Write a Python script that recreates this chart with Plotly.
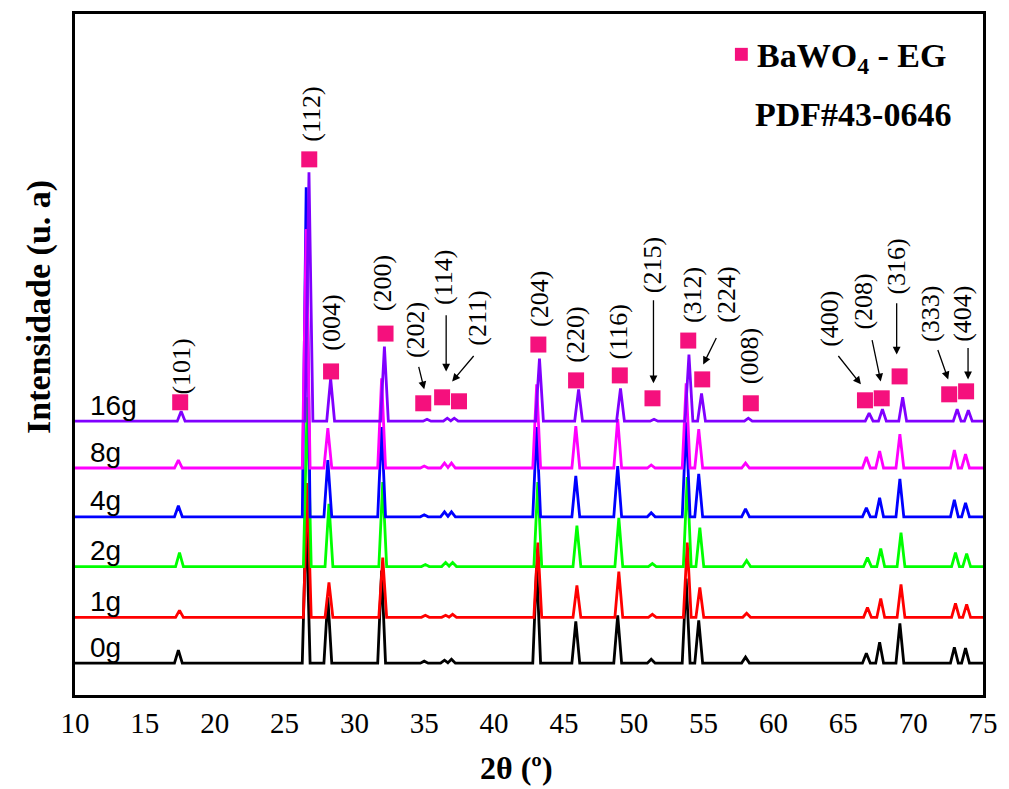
import plotly.graph_objects as go

# ---------------- data ----------------
SAMPLES = ["0g", "1g", "2g", "4g", "8g", "16g"]
COLORS = ["#000000", "#FF0000", "#00FF00", "#0000FF", "#FF00FF", "#8000FF"]
OFFSETS = [32, 78, 129, 179, 228, 275]          # vertical stacking offset (u. a)
SHIFTS = [0.0, 0.08, 0.08, 0.0, 0.0, 0.2]       # peak shift of each pattern (deg)

HKL = ["(101)", "(112)", "(004)", "(200)", "(202)", "(114)", "(211)", "(204)", "(220)",
       "(116)", "(215)", "(312)", "(224)", "(008)", "(400)", "(208)", "(316)", "(333)", "(404)"]
PEAK_2THETA = [17.4, 26.55, 28.1, 31.95, 35.0, 36.45, 36.95, 43.05, 45.85,
               48.85, 51.25, 53.75, 54.65, 58.0, 66.65, 67.6, 69.05, 72.95, 73.75]

I_0G = [13, 150, 66, 93, 2, 3, 4, 98, 42, 48, 4, 85, 43, 6, 10, 21, 40, 16, 15]
I_1G = [7, 135, 35, 60, 2, 2, 3, 75, 32, 46, 3, 75, 30, 4, 10, 19, 33, 14, 13]
I_2G = [14, 170, 63, 85, 2, 4, 4, 85, 41, 49, 3, 90, 39, 6, 9, 18, 34, 14, 13]
I_4G = [11, 331, 57, 90, 2, 5, 5, 90, 41, 51, 4, 95, 43, 8, 9, 19, 38, 17, 14]
I_8G = [8, 240, 40, 90, 2, 5, 5, 84, 42, 49, 3, 85, 39, 5, 11, 17, 34, 18, 14]
I_16G = [10, 250, 43, 75, 2, 3, 3, 63, 32, 33, 2, 67, 28, 3, 8, 12, 24, 12, 11]
INTENSITIES = [I_0G, I_1G, I_2G, I_4G, I_8G, I_16G]

# reference markers (pink squares) and their labels
MARK_2THETA = [17.53, 26.77, 28.33, 32.23, 34.93, 36.28, 37.49, 43.17, 45.87,
               49.0, 51.34, 53.9, 54.9, 58.38, 66.55, 67.75, 69.03, 72.58, 73.79]
MARK_Y = [294, 538, 325, 363, 293, 299, 295, 352, 316,
          321, 298, 356, 317, 293, 296, 298, 320, 302, 305]
LABEL_2THETA = [17.6, 26.9, 28.4, 32.0, 34.37, 36.43, 38.85, 43.3, 45.87,
                48.93, 51.4, 54.19, 56.67, 58.3, 63.99, 66.47, 68.82, 71.23, 73.58]
LABEL_Y = [330, 583, 374, 414, 367, 419, 378, 398, 362,
           365, 432, 402, 402, 340, 378, 395, 430, 383, 383]

# arrows: (tail x, tail y, head x, head y)
ARROWS = [
    (34.58, 331, 35.0, 307),
    (36.57, 383, 36.57, 325),
    (38.63, 342, 37.0, 315),
    (51.41, 398, 51.41, 313),
    (55.96, 360, 54.97, 332),
    (64.56, 342, 66.26, 312),
    (67.04, 358, 67.68, 315),
    (68.82, 395, 68.82, 342),
    (71.73, 348, 72.51, 317),
    (73.93, 350, 73.93, 317),
]

X_MIN, X_MAX = 10, 75
HALF_WIDTH = 0.28

SERIF = "Liberation Serif, Times New Roman, serif"
SANS = "Liberation Sans, Arial, sans-serif"
PINK = "#F5107D"

fig = go.Figure()

for name, color, off, sh, inten in zip(SAMPLES, COLORS, OFFSETS, SHIFTS, INTENSITIES):
    xs = [X_MIN]
    ys = [off]
    for c, h in sorted(zip(PEAK_2THETA, inten)):
        c = c + sh
        xs += [c - HALF_WIDTH, c, c + HALF_WIDTH]
        ys += [off, off + h, off]
    xs.append(X_MAX)
    ys.append(off)
    fig.add_trace(go.Scatter(x=xs, y=ys, mode="lines", name=name,
                             line=dict(color=color, width=2.8), showlegend=False,
                             hoverinfo="skip"))

fig.add_trace(go.Scatter(x=MARK_2THETA, y=MARK_Y, mode="markers",
                         marker=dict(symbol="square", size=16, color=PINK),
                         showlegend=False, hoverinfo="skip"))

annotations = []
for lab, lx, ly in zip(HKL, LABEL_2THETA, LABEL_Y):
    annotations.append(dict(x=lx, y=ly, xref="x", yref="y", text=lab, textangle=-90,
                            showarrow=False, font=dict(family=SERIF, size=26, color="black")))

for tx, ty, hx, hy in ARROWS:
    annotations.append(dict(x=hx, y=hy, xref="x", yref="y", ax=tx, ay=ty,
                            axref="x", ayref="y", text="", showarrow=True,
                            arrowhead=2, arrowsize=1.2, arrowwidth=1.3, arrowcolor="black"))

for name, off in zip(SAMPLES, OFFSETS):
    annotations.append(dict(x=10.95, y=off + 16, xref="x", yref="y", text=name,
                            xanchor="left", yanchor="middle", showarrow=False,
                            font=dict(family=SANS, size=28, color="black")))

annotations.append(dict(xref="paper", yref="paper", x=(760 - 75) / 915, y=(695 - 55) / 684,
                        xanchor="left", yanchor="middle", showarrow=False,
                        text="<b>BaWO<sub>4</sub> - EG</b>",
                        font=dict(family=SERIF, size=34, color="black")))
annotations.append(dict(xref="paper", yref="paper", x=(758 - 75) / 915, y=(695 - 112) / 684,
                        xanchor="left", yanchor="middle", showarrow=False,
                        text="<b>PDF#43-0646</b>",
                        font=dict(family=SERIF, size=34, color="black")))
annotations.append(dict(xref="paper", yref="paper", x=(38 - 75) / 915, y=(695 - 305) / 684,
                        xanchor="center", yanchor="middle", showarrow=False, textangle=-90,
                        text="<b>Intensidade (u. a)</b>",
                        font=dict(family=SERIF, size=34, color="black")))
annotations.append(dict(xref="paper", yref="paper", x=(520 - 75) / 915, y=(695 - 768) / 684,
                        xanchor="center", yanchor="middle", showarrow=False,
                        text="<b>2θ (º)</b>",
                        font=dict(family=SERIF, size=32, color="black")))

shapes = [dict(type="rect", xref="paper", yref="paper",
               x0=(740 - 75) / 915, x1=(753 - 75) / 915,
               y0=(695 - 58) / 684, y1=(695 - 45) / 684,
               fillcolor=PINK, line=dict(width=0))]

fig.update_layout(
    width=1009, height=789,
    margin=dict(l=75, r=19, t=11, b=94),
    paper_bgcolor="white", plot_bgcolor="white",
    annotations=annotations, shapes=shapes,
    xaxis=dict(range=[X_MIN, X_MAX], tickvals=list(range(10, 80, 5)), ticks="",
               showgrid=False, zeroline=False, showline=True, mirror=True,
               linecolor="black", linewidth=3,
               tickfont=dict(family=SERIF, size=29, color="black")),
    yaxis=dict(range=[0, 684], showticklabels=False, ticks="", showgrid=False,
               zeroline=False, showline=True, mirror=True, linecolor="black", linewidth=3),
)

fig.write_html("out.html", config={"displayModeBar": False},
               post_script="document.body.style.margin='0';document.body.style.padding='0';")
